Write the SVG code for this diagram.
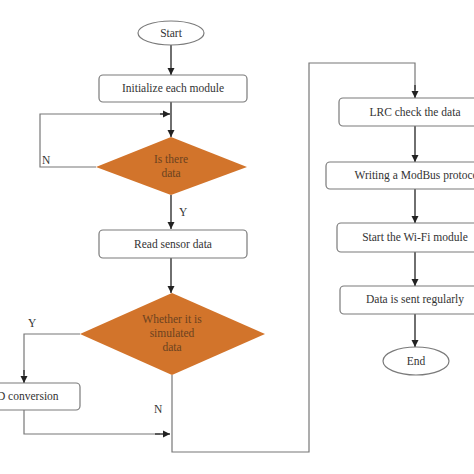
<svg xmlns="http://www.w3.org/2000/svg" width="474" height="474" viewBox="0 0 474 474">
<style>
.box{fill:#fff;stroke:#7a7a7a;stroke-width:1.2}
.dia{fill:#D2742B;stroke:none}
.t{font-family:"Liberation Serif",serif;font-size:11.5px;fill:#333;text-anchor:middle}
.td{font-family:"Liberation Serif",serif;font-size:11.5px;fill:#6b4220;text-anchor:middle}
.lbl{font-family:"Liberation Serif",serif;font-size:11.5px;fill:#333}
.ln{fill:none;stroke:#777;stroke-width:1.2}
.ar{fill:none;stroke:#333;stroke-width:1.4;marker-end:url(#ah)}
</style>
<defs>
<marker id="ah" markerWidth="8" markerHeight="8" refX="7" refY="4" orient="auto" markerUnits="userSpaceOnUse">
<path d="M0,0.5 L7,4 L0,7.5 Z" fill="#222"/>
</marker>
</defs>
<rect width="474" height="474" fill="#fff"/>
<g id="connectors">
<line class="ar" x1="171" y1="45" x2="171" y2="75"/>
<line class="ar" x1="171" y1="102" x2="171" y2="137"/>
<polyline class="ln" points="96,167 40,167 40,114 164,114"/>
<line class="ar" x1="160" y1="114" x2="170" y2="114"/>
<line class="ar" x1="171" y1="195" x2="171" y2="229"/>
<line class="ar" x1="171" y1="258" x2="171" y2="293"/>
<polyline class="ln" points="80,334 24,334 24,375"/>
<line class="ar" x1="24" y1="370" x2="24" y2="383"/>
<polyline class="ln" points="24,410 24,434 160,434"/>
<line class="ar" x1="155" y1="434" x2="170" y2="434"/>
<polyline class="ln" points="172,375 172,452 309,452 309,63 415,63 415,90"/>
<line class="ar" x1="415" y1="85" x2="415" y2="98"/>
<line class="ar" x1="415" y1="126" x2="415" y2="162"/>
<line class="ar" x1="415" y1="189" x2="415" y2="223"/>
<line class="ar" x1="415" y1="252" x2="415" y2="286"/>
<line class="ar" x1="415" y1="314" x2="415" y2="347"/>
<text class="lbl" x="42" y="164">N</text>
<text class="lbl" x="179" y="216">Y</text>
<text class="lbl" x="28" y="327">Y</text>
<text class="lbl" x="154" y="413">N</text>
</g>
<g id="start"><ellipse class="box" cx="171" cy="33" rx="33" ry="12"/><text class="t" x="171" y="37">Start</text></g>
<g id="init"><rect class="box" x="99" y="75" width="148" height="27" rx="4"/><text class="t" x="173" y="92">Initialize each module</text></g>
<g id="isdata"><polygon class="dia" points="171,137 247,167 171,195 96,167"/><text class="td" x="171" y="163">Is there</text><text class="td" x="171" y="177">data</text></g>
<g id="read"><rect class="box" x="99" y="230" width="148" height="28" rx="4"/><text class="t" x="173" y="248">Read sensor data</text></g>
<g id="simulated"><polygon class="dia" points="172,293 265,334 172,375 80,334"/><text class="td" x="172" y="323">Whether it is</text><text class="td" x="172" y="337">simulated</text><text class="td" x="172" y="351">data</text></g>
<g id="adconv"><rect class="box" x="-34" y="383" width="114" height="27" rx="4"/><text class="t" x="22" y="400">A/D conversion</text></g>
<g id="lrc"><rect class="box" x="339" y="98" width="152" height="28" rx="4"/><text class="t" x="415" y="116">LRC check the data</text></g>
<g id="modbus"><rect class="box" x="326" y="162" width="178" height="27" rx="4"/><text class="t" x="418" y="179">Writing a ModBus protocol</text></g>
<g id="wifi"><rect class="box" x="337" y="223" width="156" height="29" rx="4"/><text class="t" x="415" y="241">Start the Wi-Fi module</text></g>
<g id="sent"><rect class="box" x="340" y="286" width="150" height="28" rx="4"/><text class="t" x="415" y="303">Data is sent regularly</text></g>
<g id="end"><ellipse class="box" cx="416" cy="361" rx="33" ry="14"/><text class="t" x="416" y="365">End</text></g>
</svg>
